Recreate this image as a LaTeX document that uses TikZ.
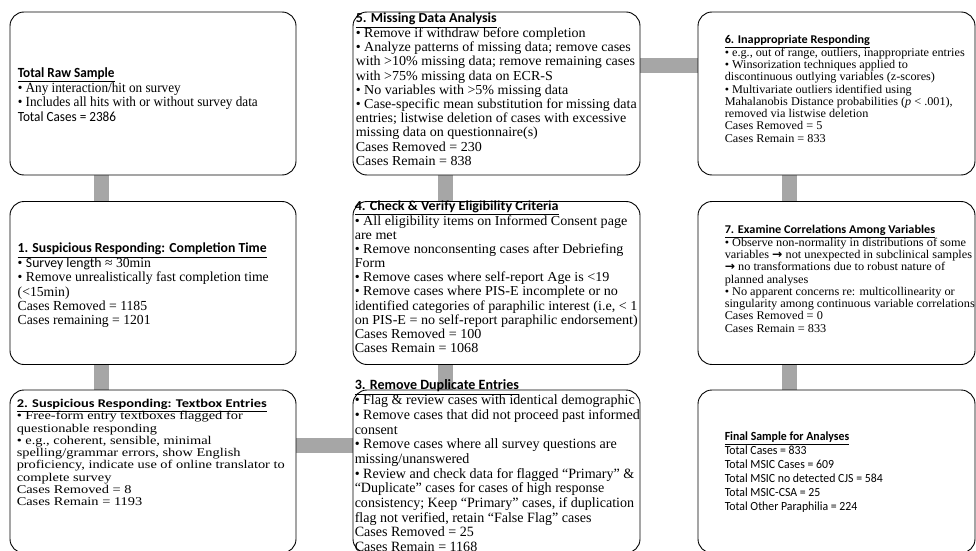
\documentclass[tikz,border=0pt]{standalone}
\usepackage{fontspec}
\usepackage{graphicx}
\setmainfont{Liberation Serif}
\newfontfamily\calibri{Carlito}
\newfontfamily\arrowfont{DejaVu Sans}
\usetikzlibrary{positioning, backgrounds}

\definecolor{linkgray}{HTML}{A6A6A6}
\tikzset{
  stepbox/.style={draw, line width=0.9pt, rounded corners=14pt, fill=white, minimum height=163pt},
  steptext/.style={inner sep=0pt, font=\fontsize{12}{12.4}\selectfont},
  link/.style={draw=linkgray, line width=15pt},
}
\newcommand{\boxtitle}[1]{{\calibri\bfseries\underline{#1}}}
\newcommand{\thickarrow}{{\arrowfont\bfseries →}}
% lines of a box, stretched to the size they have in the original
\newcommand{\fitlines}[3]{\resizebox*{#1}{#2}{\begin{tabular}{@{}l@{}}#3\end{tabular}}}

\begin{document}
\begin{tikzpicture}[x=1pt, y=1pt]
    \useasboundingbox (0,0) rectangle (976,550);
    \clip (0,0) rectangle (976,550);

    % =========================================================================
    % LEFT COLUMN: raw sample and suspicious responding
    % =========================================================================
    \node[stepbox, minimum width=286pt] (raw) at (153,456.5) {};
    \node[steptext, right=8pt of raw.west, yshift=-3pt] (rawtext) {\fitlines{240pt}{58pt}{%
        \boxtitle{Total Raw Sample}\\
        • Any interaction/hit on survey\\
        • Includes all hits with or without survey data\\
        {\calibri Total Cases = 2386}}};

    \node[stepbox, minimum width=286pt] (respTime) at (153,267) {};
    \node[steptext, right=8pt of respTime.west, yshift=-3pt] (respTimetext) {\fitlines{251pt}{86pt}{%
        \boxtitle{1. Suspicious Responding: Completion Time}\\
        • {\calibri Survey length} ≈ 30min\\
        • Remove unrealistically fast completion time\\
        (<15min)\\
        Cases Removed = 1185\\
        Cases remaining = 1201}};

    \node[stepbox, minimum width=286pt] (respText) at (153,78.5) {};
    \node[steptext, right=7pt of respText.west, yshift=17.5pt] (respTexttext) {\fitlines{268pt}{110.5pt}{%
        \boxtitle{2. Suspicious Responding: Textbox Entries}\\
        • Free-form entry textboxes flagged for\\
        questionable responding\\
        • e.g., coherent, sensible, minimal\\
        spelling/grammar errors, show English\\
        proficiency, indicate use of online translator to\\
        complete survey\\
        Cases Removed = 8\\
        Cases Remain = 1193}};

    % =========================================================================
    % MIDDLE COLUMN: duplicates, eligibility, missing data
    % =========================================================================
    \node[stepbox, minimum width=287pt] (dupl) at (496.5,78.5) {};
    \node[steptext, right=2pt of dupl.west, yshift=3.8pt] (dupltext) {\fitlines{285pt}{176pt}{%
        \boxtitle{3. Remove Duplicate Entries}\\
        • Flag \& review cases with identical demographic\\
        • Remove cases that did not proceed past informed\\
        consent\\
        • Remove cases where all survey questions are\\
        missing/unanswered\\
        • Review and check data for flagged “Primary” \&\\
        “Duplicate” cases for cases of high response\\
        consistency; Keep “Primary” cases, if duplication\\
        flag not verified, retain “False Flag” cases\\
        Cases Removed = 25\\
        Cases Remain = 1168}};

    \node[stepbox, minimum width=287pt] (elig) at (496.5,267) {};
    \node[steptext, right=2pt of elig.west, yshift=4.2pt] (eligtext) {\fitlines{283pt}{156pt}{%
        \boxtitle{4. Check \& Verify Eligibility Criteria}\\
        • All eligibility items on Informed Consent page\\
        are met\\
        • Remove nonconsenting cases after Debriefing\\
        Form\\
        • Remove cases where self-report Age is <19\\
        • Remove cases where PIS-E incomplete or no\\
        identified categories of paraphilic interest (i.e, < 1\\
        on PIS-E = no self-report paraphilic endorsement)\\
        Cases Removed = 100\\
        Cases Remain = 1068}};

    \node[stepbox, minimum width=287pt] (missing) at (496.5,456.5) {};
    \node[steptext, right=3pt of missing.west, yshift=2.3pt] (missingtext) {\fitlines{281pt}{156.5pt}{%
        \boxtitle{5. Missing Data Analysis}\\
        • Remove if withdraw before completion\\
        • Analyze patterns of missing data; remove cases\\
        with >10\% missing data; remove remaining cases\\
        with >75\% missing data on ECR-S\\
        • No variables with >5\% missing data\\
        • Case-specific mean substitution for missing data\\
        entries; listwise deletion of cases with excessive\\
        missing data on questionnaire(s)\\
        Cases Removed = 230\\
        Cases Remain = 838}};

    % =========================================================================
    % RIGHT COLUMN: inappropriate responding, correlations, final sample
    % =========================================================================
    \node[stepbox, minimum width=277pt] (inappr) at (836.5,456.5) {};
    \node[steptext, right=27pt of inappr.west, yshift=3pt] (inapprtext) {\fitlines{240pt}{110.5pt}{%
        \boxtitle{6. Inappropriate Responding}\\
        • e.g., out of range, outliers, inappropriate entries\\
        • Winsorization techniques applied to\\
        discontinuous outlying variables (z-scores)\\
        • Multivariate outliers identified using\\
        Mahalanobis Distance probabilities (\textit{p} < .001),\\
        removed via listwise deletion\\
        Cases Removed = 5\\
        Cases Remain = 833}};

    \node[stepbox, minimum width=277pt] (corr) at (836.5,267) {};
    \node[steptext, right=27pt of corr.west, yshift=2.5pt] (corrtext) {\fitlines{250pt}{110.5pt}{%
        \boxtitle{7. Examine Correlations Among Variables}\\
        • Observe non-normality in distributions of some\\
        variables \thickarrow{} not unexpected in subclinical samples\\
        \thickarrow{} no transformations due to robust nature of\\
        planned analyses\\
        • No apparent concerns re: multicollinearity or\\
        singularity among continuous variable correlations\\
        Cases Removed = 0\\
        Cases Remain = 833}};

    \node[stepbox, minimum width=277pt] (final) at (836.5,78.5) {};
    \node[steptext, right=27pt of final.west, yshift=-1.5pt, font=\fontsize{12}{13.5}\selectfont\calibri] (finaltext) {\fitlines{158pt}{84pt}{%
        \boxtitle{Final Sample for Analyses}\\
        Total Cases = 833\\
        Total MSIC Cases = 609\\
        Total MSIC no detected CJS = 584\\
        Total MSIC-CSA = 25\\
        Total Other Paraphilia = 224}};

    % Gray connectors behind the boxes
    \begin{scope}[on background layer]
        \draw[link] ([xshift=-52pt]raw.south) -- ([xshift=-52pt]respTime.north);
        \draw[link] ([xshift=-52pt]respTime.south) -- ([xshift=-52pt]respText.north);
        \draw[link] ([yshift=26pt]respText.east) -- ([yshift=26pt]dupl.west);
        \draw[link] ([xshift=-51.5pt]dupl.north) -- ([xshift=-51.5pt]elig.south);
        \draw[link] ([xshift=-51.5pt]elig.north) -- ([xshift=-51.5pt]missing.south);
        \draw[link] ([yshift=28pt]missing.east) -- ([yshift=28pt]inappr.west);
        \draw[link] ([xshift=-47pt]inappr.south) -- ([xshift=-47pt]corr.north);
        \draw[link] ([xshift=-47pt]corr.south) -- ([xshift=-47pt]final.north);
    \end{scope}

\end{tikzpicture}
\end{document}
